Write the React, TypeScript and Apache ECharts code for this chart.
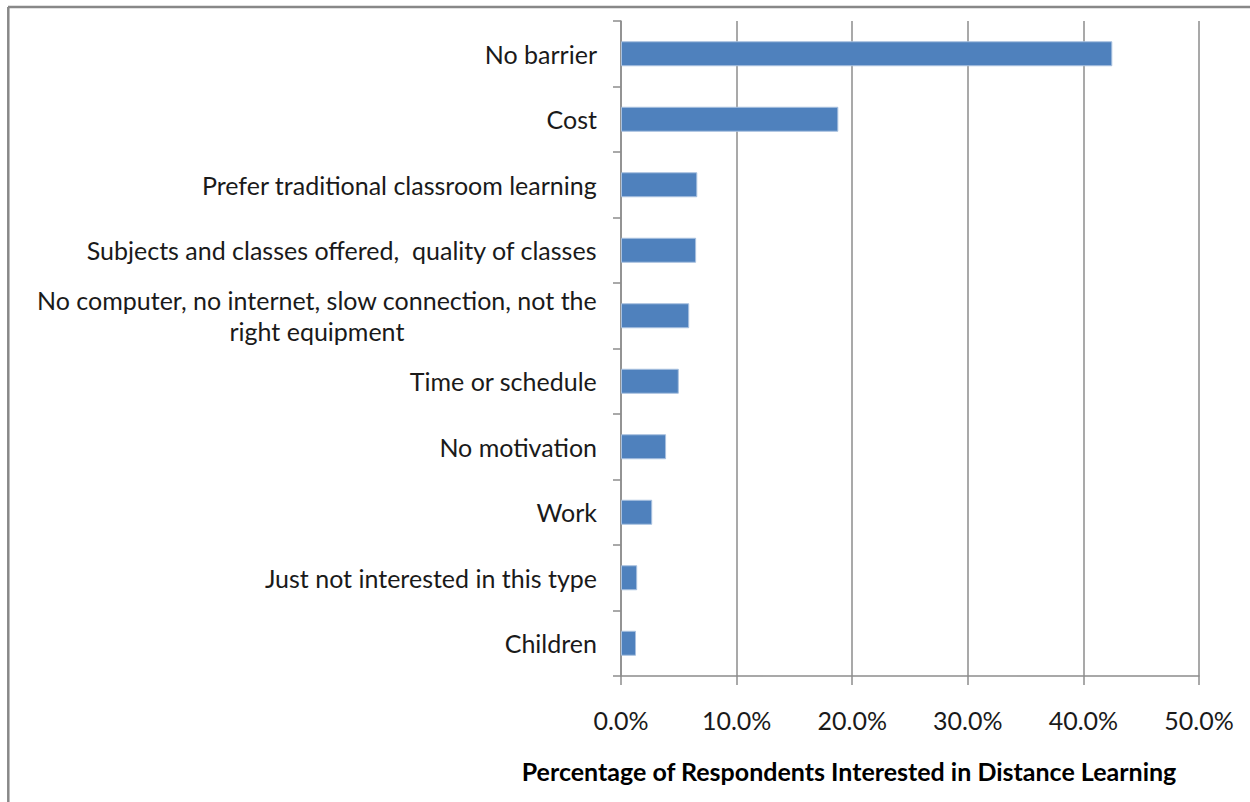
import React, { useEffect, useRef } from "react";
import * as echarts from "echarts";

const categories: string[] = [
  "No barrier",
  "Cost",
  "Prefer traditional classroom learning",
  "Subjects and classes offered,  quality of classes",
  "No computer, no internet, slow connection, not the\nright equipment",
  "Time or schedule",
  "No motivation",
  "Work",
  "Just not interested in this type",
  "Children",
];
const values: number[] = [42.5, 18.8, 6.6, 6.5, 5.9, 5.0, 3.9, 2.7, 1.4, 1.3];
const xTicks = { min: 0, max: 50, interval: 10 };
const axisTitle = "Percentage of Respondents Interested in Distance Learning";

const FONT = "Lato, 'Open Sans', sans-serif";
const FS = 25;

export default function App() {
  const ref = useRef<HTMLDivElement>(null);
  useEffect(() => {
    if (!ref.current) return;
    const chart = echarts.init(ref.current, undefined, { renderer: "svg" });
    chart.setOption({
      animation: false,
      backgroundColor: "#ffffff",
      grid: { left: 621, right: 51, top: 21, bottom: 126, containLabel: false },
      xAxis: {
        type: "value",
        min: xTicks.min,
        max: xTicks.max,
        interval: xTicks.interval,
        axisLine: { show: true, lineStyle: { color: "#8c8c8c", width: 1.5 } },
        axisTick: { show: true, length: 9, lineStyle: { color: "#8c8c8c", width: 1.5 } },
        axisLabel: {
          margin: 31,
          color: "#1a1a1a",
          fontFamily: FONT,
          fontSize: FS,
          formatter: (v: number) => v.toFixed(1) + "%",
        },
        splitLine: { show: true, lineStyle: { color: "#8c8c8c", width: 1.5 } },
      },
      yAxis: {
        type: "category",
        data: categories,
        inverse: true,
        axisLine: { show: true, lineStyle: { color: "#8c8c8c", width: 1.5 } },
        axisTick: { show: true, length: 8, alignWithLabel: false, lineStyle: { color: "#8c8c8c", width: 1.5 } },
        axisLabel: {
          margin: 24,
          color: "#1a1a1a",
          fontFamily: FONT,
          fontSize: FS,
          lineHeight: 31,
          interval: 0,
          formatter: (v: string) =>
            v
              .split("\n")
              .map((s) => "{c|" + s + "}")
              .join("\n"),
          rich: {
            c: { align: "center", fontFamily: FONT, fontSize: FS, color: "#1a1a1a", lineHeight: 31 },
          },
        },
      },
      series: [
        {
          type: "bar",
          data: values,
          barWidth: 25,
          itemStyle: { color: "#4f81bd", borderColor: "#a9c1df", borderWidth: 1 },
        },
      ],
      graphic: [
        {
          type: "text",
          x: 849,
          y: 771,
          style: {
            text: axisTitle,
            fontFamily: FONT,
            fontSize: FS,
            fontWeight: "bold",
            fill: "#000000",
            align: "center",
            verticalAlign: "middle",
          },
        },
        { type: "line", shape: { x1: 8, y1: 7, x2: 1250, y2: 7 }, style: { stroke: "#888888", lineWidth: 2.5 } },
        { type: "line", shape: { x1: 8.3, y1: 7, x2: 8.3, y2: 802 }, style: { stroke: "#888888", lineWidth: 2.5 } },
      ],
    });
    return () => chart.dispose();
  }, []);
  return (
    <div
      ref={ref}
      style={{ position: "absolute", left: 0, top: 0, width: 1250, height: 802 }}
    />
  );
}
